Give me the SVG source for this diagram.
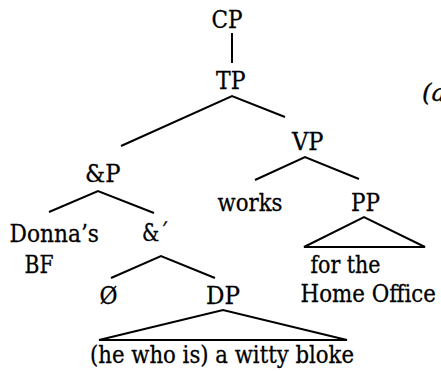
<svg xmlns="http://www.w3.org/2000/svg" width="441" height="371" viewBox="0 0 441 371">
  <style>
    text { font-family: 'DejaVu Serif', 'Liberation Serif', serif; font-size: 24.5px; fill: #000; stroke: #000; stroke-width: 0.3px; }
    .tag { font-style: italic; }
    .edge { stroke: #000; stroke-width: 2; fill: none; }
  </style>
  <rect width="441" height="371" fill="#fff"/>

  <!-- branches and roof triangles -->
  <g id="connectors">
    <line class="edge" x1="232" y1="33" x2="232" y2="63"/>
    <polyline class="edge" points="121,146 232,96 285,117"/>
    <polyline class="edge" points="255,180 305,157 359,179"/>
    <polyline class="edge" points="49,212 98,191 154,213"/>
    <polyline class="edge" points="111,278 161,256 215,278"/>
    <polygon class="edge" points="304,247 364,217 425,247"/>
    <polygon class="edge" points="99,340 223,310 347,340"/>
  </g>

  <!-- labels: widths fixed so every label keeps its set width -->
  <g id="cp"><text x="211.5" y="27.5" textLength="31" lengthAdjust="spacingAndGlyphs">CP</text></g>
  <g id="tp"><text x="216" y="89" textLength="29.5" lengthAdjust="spacingAndGlyphs">TP</text></g>
  <g id="vp"><text x="292" y="150" textLength="31.5" lengthAdjust="spacingAndGlyphs">VP</text></g>
  <g id="andp"><text x="85" y="182" textLength="35.5" lengthAdjust="spacingAndGlyphs">&amp;P</text></g>
  <g id="works"><text x="217.5" y="211" textLength="65" lengthAdjust="spacingAndGlyphs">works</text></g>
  <g id="pp"><text x="351" y="211" textLength="29" lengthAdjust="spacingAndGlyphs">PP</text></g>
  <g id="donnas-bf">
    <text x="9.5" y="242" textLength="89.5" lengthAdjust="spacingAndGlyphs">Donna’s</text>
    <text x="24.5" y="273" textLength="29" lengthAdjust="spacingAndGlyphs">BF</text>
  </g>
  <g id="andbar"><text x="142" y="241" textLength="27" lengthAdjust="spacingAndGlyphs">&amp;´</text></g>
  <g id="pp-yield">
    <text x="310.5" y="273" textLength="70" lengthAdjust="spacingAndGlyphs">for the</text>
    <text x="300.5" y="302" textLength="135.5" lengthAdjust="spacingAndGlyphs">Home Office</text>
  </g>
  <g id="null"><text x="99.5" y="304" textLength="18" lengthAdjust="spacingAndGlyphs">Ø</text></g>
  <g id="dp"><text x="206" y="304" textLength="34" lengthAdjust="spacingAndGlyphs">DP</text></g>
  <g id="dp-yield"><text x="90" y="363" textLength="264" lengthAdjust="spacingAndGlyphs">(he who is) a witty bloke</text></g>
  <g id="example-tag"><text class="tag" x="422" y="101">(a</text></g>
</svg>
